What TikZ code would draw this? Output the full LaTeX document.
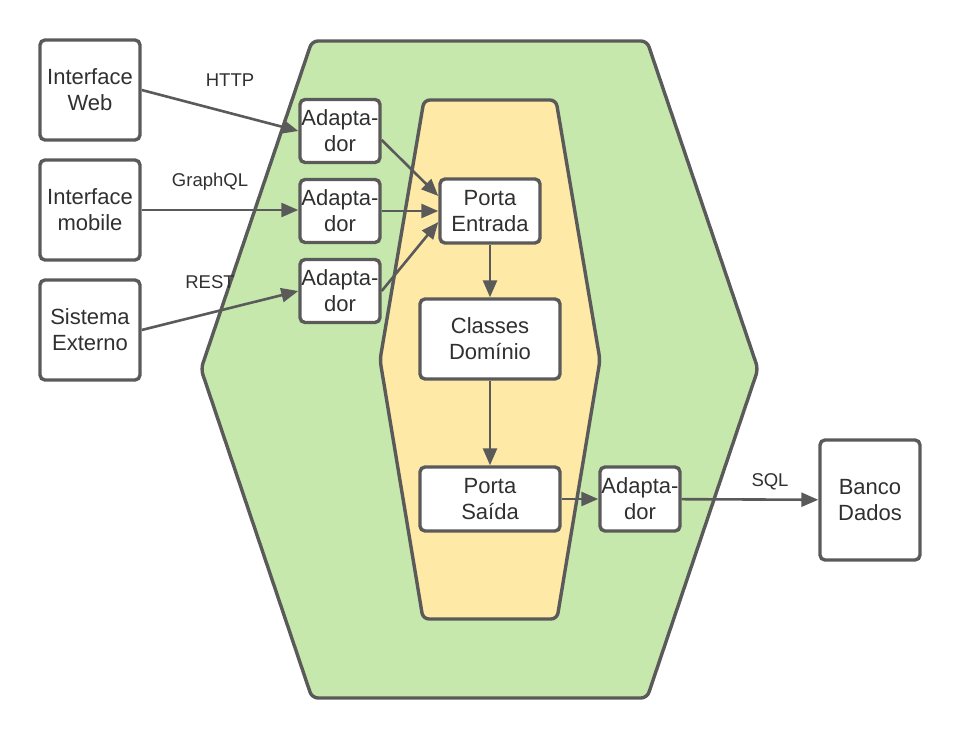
\documentclass[tikz,border=0pt]{standalone}
\usepackage{fontspec}
\setmainfont{Liberation Sans}
\usepackage{tikz}
\usetikzlibrary{arrows.meta,positioning}

\definecolor{linegray}{HTML}{5A5A5A}
\definecolor{textgray}{HTML}{303030}
\definecolor{hexgreen}{HTML}{C7E8AC}
\definecolor{hexyellow}{HTML}{FFE9A6}

\tikzset{
  box/.style={draw=linegray, line width=3.4pt, rounded corners=5pt, fill=white,
    align=center, inner sep=0pt, text=textgray,
    font=\fontsize{22}{26}\selectfont},
  extbox/.style={box, minimum width=100pt, minimum height=100pt},
  adapt/.style={box, minimum width=80pt, minimum height=63pt},
  porta/.style={box, minimum width=#1, minimum height=64pt},
  lbl/.style={text=textgray, font=\fontsize{18.5}{22}\selectfont},
  conn/.style={color=linegray, line width=2.6pt},
  hexa/.style={draw=linegray, line width=3.4pt, rounded corners=6pt, line join=round}
}

\begin{document}
\begin{tikzpicture} [x=1pt, y=1pt, node distance = 120pt, on grid, >={Triangle[length=17pt, width=14pt]}]
       \useasboundingbox (0,0) rectangle (960,740);
       % camadas
       \path[hexa, fill=hexgreen] (312,699) -- (647,699) -- (758,371) -- (647,42) -- (312,42) -- (201,371) -- cycle;
       \path[hexa, fill=hexyellow] (424,640) -- (556,640) -- (600,380) -- (557,121) -- (423,121) -- (380,380) -- cycle;
       % atores externos
       \node (web) [extbox] at (90,650) {Interface\\Web};
       \node (mobile) [extbox] [below = of web] {Interface\\mobile};
       \node (sist) [extbox] [below = of mobile] {Sistema\\Externo};
       \node (banco) [box, minimum width=100pt, minimum height=120pt] at (870,240) {Banco\\Dados};
       % adaptadores
       \node (ad1) [adapt] at (340,609) {Adapta-\\dor};
       \node (ad2) [adapt] [below = 80pt of ad1] {Adapta-\\dor};
       \node (ad3) [adapt] [below = 80pt of ad2] {Adapta-\\dor};
       % nucleo
       \node (pe) [porta=100pt] [right = 150pt of ad2] {Porta\\Entrada};
       \node (dom) [box, minimum width=140pt, minimum height=80pt] [below = 128pt of pe] {Classes\\Domínio};
       \node (ps) [porta=140pt] [below = 160pt of dom] {Porta\\Saída};
       \node (ad4) [adapt, minimum height=64pt] [right = 150pt of ps] {Adapta-\\dor};
       % protocolos
       \node (http) [lbl] at (230,660) {HTTP};
       \node (gql) [lbl] at (210,558) {GraphQL};
       \node (rest) [lbl] at (210,458) {REST};
       \node (sql) [lbl] at (770,258) {SQL};
       % pontos de chegada na porta de entrada
       \coordinate (pe1) at ([yshift=15pt]pe.west);
       \coordinate (pe3) at ([yshift=-11pt]pe.west);
        \path[->, conn]
        (web.east) edge (ad1.west)
        (mobile.east) edge (mobile.east -| ad2.west)
        (sist.east) edge (ad3.west)
        ([yshift=-9pt]ad1.east) edge (pe1)
        (ad2.east) edge (pe.west)
        (ad3.east) edge (pe3)
        (pe) edge (dom)
        (dom) edge (ps)
        (ps) edge (ad4)
        (ad4) edge (banco);
     \end{tikzpicture}
\end{document}
